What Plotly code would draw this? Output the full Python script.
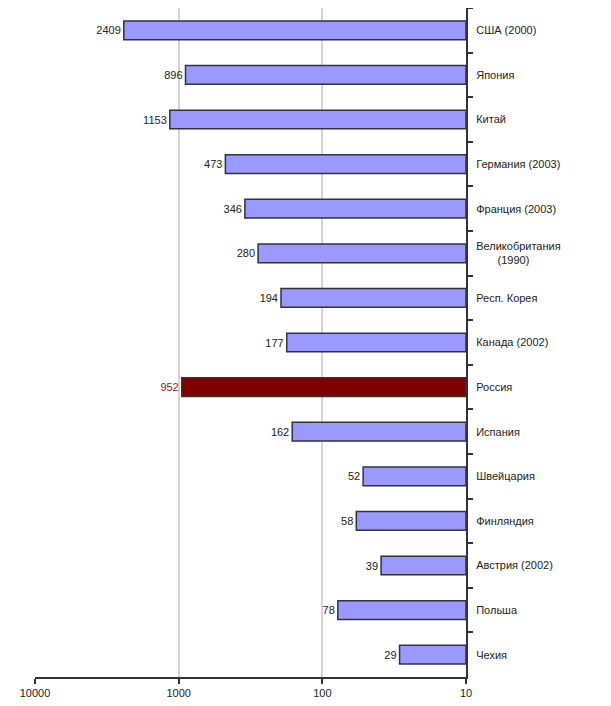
import plotly.graph_objects as go

# данные
countries = ['США (2000)', 'Япония', 'Китай', 'Германия (2003)', 'Франция (2003)',
             'Великобритания<br>\u00a0\u00a0\u00a0\u00a0\u00a0\u00a0\u00a0(1990)',
             'Респ. Корея', 'Канада (2002)', 'Россия', 'Испания', 'Швейцария',
             'Финляндия', 'Австрия (2002)', 'Польша', 'Чехия']
values = [2409, 896, 1153, 473, 346, 280, 194, 177, 952, 162, 52, 58, 39, 78, 29]
highlight = 'Россия'

x_ticks = [10000, 1000, 100, 10]
base_val = 10

fill = ['#800000' if c == highlight else '#9999ff' for c in countries]
txt_col = ['#9a1a1a' if c == highlight else '#222222' for c in countries]

fig = go.Figure()
fig.add_trace(go.Bar(
    y=countries,
    x=[v - base_val for v in values],
    base=base_val,
    orientation='h',
    marker=dict(color=fill, line=dict(color='#333333', width=1.5)),
    text=[str(v) for v in values],
    textposition='outside',
    textfont=dict(size=11, color=txt_col, family='Liberation Sans, Arial'),
    cliponaxis=False,
    hoverinfo='skip',
))

# страница добавляет отступ 8px слева и сверху
fig.update_layout(
    width=603, height=698,
    margin=dict(l=27, r=145, t=0, b=29),
    paper_bgcolor='white', plot_bgcolor='white',
    bargap=0.58,
    showlegend=False,
    font=dict(family='Liberation Sans, Arial', size=11, color='#222222'),
)
fig.update_xaxes(
    type='log', range=[4, 1],
    tickvals=x_ticks, ticktext=[str(t) for t in x_ticks],
    showgrid=True, gridcolor='#d4d4d4', gridwidth=2,
    showline=True, linecolor='#333333', linewidth=2,
    ticks='outside', ticklen=5, tickcolor='#333333', tickwidth=2,
    zeroline=False,
    tickfont=dict(size=11, color='#222222'),
)
fig.update_yaxes(
    categoryorder='array', categoryarray=countries,
    autorange='reversed',
    side='right',
    showline=True, linecolor='#333333', linewidth=2,
    ticks='outside', ticklen=5, tickcolor='#333333', tickwidth=2,
    tickson='boundaries',
    showgrid=False,
    ticklabelstandoff=6,
    tickfont=dict(size=11, color='#222222'),
)

fig.write_html('out.html')
